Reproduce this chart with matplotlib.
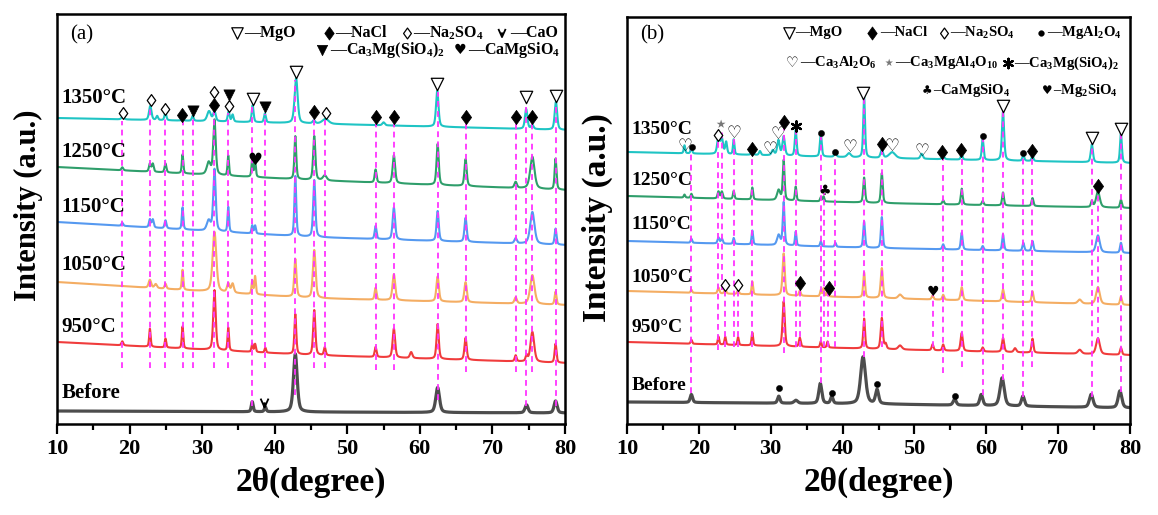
import numpy as np
import matplotlib
matplotlib.use("Agg")
import matplotlib.pyplot as plt
from matplotlib.path import Path

plt.rcParams['font.family'] = ['Liberation Serif', 'DejaVu Sans']
plt.rcParams['font.weight'] = 'bold'
plt.rcParams['mathtext.fontset'] = 'custom'
plt.rcParams['mathtext.rm'] = 'Liberation Serif:bold'
plt.rcParams['mathtext.it'] = 'Liberation Serif:bold'
plt.rcParams['mathtext.bf'] = 'Liberation Serif:bold'

# ---------------- data (2theta, height, half-width), baselines at 10/45/80 deg ----------------
SAMPLES = ['1350°C', '1250°C', '1150°C', '1050°C', '950°C', 'Before']
COLORS = ['#1fc4c4', '#2f9e6b', '#5599f0', '#f4ad63', '#f03c3c', '#4d4d4d']

# panel (a)
A_BASE = [[118, 123.5, 130], [167, 180, 190], [222, 237, 245],
          [282, 298, 305], [342, 355, 363], [411, 412, 413]]
A_1350 = [(19.07, 3, .2), (22.85, 14, .2), (23.8, 4, .15), (24.94, 8, .15), (27.3, 3, .15),
          (28.7, 5, .15), (30.95, 10, .3), (31.7, 10, .2), (33.65, 10, .15), (34.2, 7, .15),
          (36.96, 17, .15), (38.65, 9, .15), (42.95, 45, .25), (45.4, 3, .2), (47.0, 5, .5),
          (55.0, 3, .2), (62.4, 36, .2), (74.65, 20, .2), (75.5, 4, .2), (78.75, 28, .2)]
A_1250 = [(19.0, 3, .15), (22.8, 8, .15), (23.2, 8, .15), (24.95, 9, .15), (27.3, 19, .12),
          (30.9, 12, .3), (31.7, 55, .2), (33.6, 20, .12), (36.9, 18, .12), (37.3, 16, .12),
          (42.84, 43, .15), (45.45, 44, .18), (46.9, 5, .3), (53.9, 13, .15), (56.42, 28, .2),
          (62.45, 41, .18), (66.3, 27, .18), (73.2, 6, .2), (75.5, 32, .35), (78.7, 31, .15)]
A_1150 = [(19.0, 3, .15), (22.8, 8, .15), (23.2, 8, .15), (24.95, 8, .15), (27.3, 22, .12),
          (30.9, 10, .3), (31.7, 62, .2), (33.6, 25, .12), (36.9, 8, .12), (37.3, 8, .12),
          (42.84, 60, .15), (45.45, 57, .18), (53.9, 13, .15), (56.42, 32, .2), (62.45, 30, .18),
          (66.3, 24, .18), (73.2, 5, .2), (75.5, 32, .35), (78.7, 16, .15)]
A_1050 = [(22.8, 8, .2), (23.6, 4, .2), (24.95, 5, .15), (27.3, 20, .12), (31.7, 60, .3),
          (33.6, 9, .2), (34.2, 9, .2), (36.9, 13, .12), (37.3, 18, .12), (42.84, 38, .18),
          (45.45, 48, .22), (53.9, 12, .15), (56.42, 26, .22), (62.45, 25, .2), (66.3, 20, .2),
          (73.2, 6, .2), (75.5, 29, .35), (78.7, 13, .15)]
A_950 = [(19.0, 4, .15), (22.8, 18, .12), (24.95, 9, .12), (27.3, 22, .12), (31.7, 60, .2),
         (33.6, 23, .12), (36.9, 8, .12), (37.3, 8, .12), (38.7, 5, .12), (42.84, 40, .15),
         (45.45, 45, .18), (46.9, 8, .15), (53.9, 10, .15), (56.42, 29, .2), (58.8, 6, .2),
         (62.45, 35, .18), (66.3, 22, .18), (73.2, 6, .15), (74.7, 6, .15), (75.5, 30, .3),
         (78.7, 19, .15)]
A_BEFORE = [(36.9, 10, .15), (38.7, 5, .15), (42.84, 58, .3), (62.45, 25, .3),
            (74.7, 8, .25), (78.7, 12, .25)]

# panel (b)
B_BASE = [[152, 158, 163], [196, 203, 208], [241, 248, 253],
          [291, 298, 305], [342, 349, 355], [402, 404, 408]]
B_1350 = [(18.0, 8, .12), (18.96, 7, .12), (22.73, 18, .2), (23.2, 15, .2), (23.8, 12, .15),
          (24.85, 15, .12), (27.44, 6, .15), (28.5, 4, .15), (30.3, 5, .2), (31.07, 15, .2),
          (31.8, 19, .2), (33.48, 26, .15), (36.97, 23, .15), (39.0, 6, .15), (40.9, 4, .3),
          (43.0, 61, .15), (45.46, 8, .2), (46.9, 6, .5), (51.0, 5, .2), (54.0, 3, .2),
          (56.58, 5, .15), (59.5, 21, .15), (62.33, 49, .18), (65.16, 6, .15), (66.43, 5, .15),
          (74.69, 18, .18), (78.74, 30, .15)]
B_1250 = [(18.0, 3, .12), (18.96, 4, .12), (22.73, 7, .15), (23.2, 7, .15), (24.85, 8, .12),
          (27.44, 12, .12), (31.1, 10, .25), (31.8, 40, .15), (33.48, 14, .12), (36.97, 4, .12),
          (37.35, 5, .12), (43.0, 25, .15), (45.46, 30, .15), (54.0, 4, .15), (56.58, 16, .15),
          (59.5, 4, .15), (62.33, 13, .15), (66.43, 8, .15), (74.69, 6, .15), (75.54, 16, .3),
          (78.74, 8, .15)]
B_1150 = [(18.96, 4, .12), (22.73, 6, .15), (23.2, 5, .15), (24.85, 6, .12), (27.44, 14, .12),
          (31.1, 10, .25), (31.8, 43, .15), (33.48, 14, .12), (36.97, 5, .12), (39.0, 4, .12),
          (43.0, 26, .15), (45.46, 31, .15), (54.0, 5, .15), (56.58, 17, .15), (59.5, 4, .15),
          (62.33, 16, .15), (65.16, 8, .15), (66.43, 10, .15), (75.54, 17, .3), (78.74, 10, .15)]
B_1050 = [(18.96, 3, .12), (22.73, 6, .15), (23.67, 5, .15), (25.46, 4, .15), (27.44, 13, .12),
          (31.8, 42, .18), (34.05, 5, .15), (36.97, 6, .12), (37.35, 8, .12), (37.91, 6, .12),
          (43.0, 25, .15), (45.46, 30, .18), (48.0, 4, .3), (52.53, 4, .15), (54.0, 5, .15),
          (56.58, 13, .18), (62.33, 12, .18), (66.43, 11, .15), (73.0, 4, .3), (75.54, 17, .3),
          (78.74, 8, .15)]
B_950 = [(18.96, 4, .12), (22.73, 8, .12), (23.67, 8, .12), (25.46, 8, .12), (27.44, 13, .12),
         (31.8, 45, .18), (34.05, 9, .15), (36.97, 6, .12), (37.91, 6, .12), (43.0, 30, .15),
         (45.46, 31, .18), (46.0, 5, .15), (48.0, 4, .3), (52.53, 6, .15), (54.0, 6, .15),
         (56.58, 18, .18), (59.5, 4, .15), (62.33, 14, .18), (64.0, 4, .2), (66.43, 14, .15),
         (73.0, 4, .3), (75.54, 16, .3), (78.74, 7, .15)]
B_BEFORE = [(18.96, 8, .2), (31.12, 7, .2), (33.5, 3, .3), (36.9, 20, .25), (38.5, 7, .2),
            (42.85, 47, .4), (44.8, 14, .25), (55.6, 6, .25), (59.3, 11, .25), (62.2, 28, .35),
            (65.1, 10, .25), (74.6, 13, .3), (78.6, 17, .3)]

# reference (dashed) lines: 2theta, top, bottom (image rows)
A_LINES = [(19.02, 121, 368), (22.81, 108, 368), (24.95, 116, 368), (27.32, 122, 368),
           (28.75, 118, 368), (31.69, 112, 368), (33.59, 113, 368), (36.91, 106, 406),
           (38.71, 114, 368), (42.84, 80, 395), (45.45, 119, 368), (46.92, 120, 368),
           (53.90, 124, 370), (56.42, 124, 370), (62.45, 92, 400), (66.33, 124, 372),
           (73.22, 124, 372), (74.69, 104, 406), (75.50, 124, 372), (78.72, 103, 406)]
B_LINES = [(18.96, 150, 393), (22.73, 140, 350), (23.2, 130, 290), (23.67, 288, 347),
           (24.85, 137, 347), (25.46, 288, 347), (27.44, 153, 347), (31.83, 127, 353),
           (33.48, 130, 347), (34.05, 287, 347), (36.97, 137, 383), (37.35, 193, 347),
           (37.91, 292, 347), (39.0, 155, 347), (43.0, 97, 357), (45.46, 148, 347),
           (52.53, 295, 347), (53.99, 155, 373), (56.58, 153, 367), (59.5, 138, 395),
           (62.33, 110, 380), (65.16, 155, 397), (66.43, 155, 367), (74.69, 142, 397),
           (75.54, 190, 343), (78.74, 133, 392)]

# phase markers: (phase, 2theta, image row)
A_MARKS = [('MgO', 36.96, 99), ('MgO', 42.98, 72), ('MgO', 62.4, 84), ('MgO', 74.6, 97),
           ('MgO', 78.76, 96),
           ('NaCl', 27.2, 115), ('NaCl', 31.7, 105), ('NaCl', 45.4, 112), ('NaCl', 53.9, 117),
           ('NaCl', 56.5, 117), ('NaCl', 66.4, 117), ('NaCl', 73.3, 117), ('NaCl', 75.5, 117),
           ('Na2SO4', 19.07, 113), ('Na2SO4', 22.9, 100), ('Na2SO4', 24.94, 109),
           ('Na2SO4', 31.7, 92), ('Na2SO4', 33.65, 106), ('Na2SO4', 47.0, 113),
           ('C3MS2', 28.7, 111), ('C3MS2', 33.65, 95), ('C3MS2', 38.6, 107),
           ('CMS', 37.3, 160), ('CaO', 38.6, 403)]
B_MARKS = [('MgO', 42.9, 93), ('MgO', 62.33, 106), ('MgO', 74.69, 138), ('MgO', 78.74, 129),
           ('NaCl', 27.44, 149), ('NaCl', 31.78, 122), ('NaCl', 45.46, 144), ('NaCl', 53.85, 152),
           ('NaCl', 56.5, 150), ('NaCl', 66.43, 151), ('NaCl', 75.54, 186), ('NaCl', 34.05, 283),
           ('NaCl', 38.05, 288),
           ('Na2SO4', 22.64, 135), ('Na2SO4', 23.67, 285), ('Na2SO4', 25.46, 285),
           ('MA', 19.05, 147), ('MA', 36.97, 133), ('MA', 39.0, 152), ('MA', 59.5, 136),
           ('MA', 65.16, 153), ('MA', 31.12, 388), ('MA', 38.5, 393), ('MA', 44.75, 384),
           ('MA', 55.6, 396),
           ('C3A', 18.1, 146), ('C3A', 24.85, 133), ('C3A', 29.9, 149), ('C3A', 31.07, 134),
           ('C3A', 41.0, 147), ('C3A', 46.9, 146), ('C3A', 51.0, 151),
           ('C3MA4', 23.06, 125), ('C3MS2b', 33.57, 126), ('CMSb', 37.58, 191), ('M2S', 52.53, 292)]

A_LEGEND = [('MgO', 34.8, 35.77, 33, '—MgO'), ('NaCl', 47.48, 48.3, 33, '—NaCl'),
            ('Na2SO4', 58.23, 59.06, 33, '—Na$_2$SO$_4$'), ('CaO', 71.32, 72.42, 33, '—CaO'),
            ('C3MS2', 46.52, 47.6, 50, '—Ca$_3$Mg(SiO$_4$)$_2$'),
            ('CMS', 65.6, 66.63, 50, '—CaMgSiO$_4$')]
B_LEGEND = [('MgO', 32.54, 33.38, 33, '—MgO'), ('NaCl', 44.1, 45.2, 33, '—NaCl'),
            ('Na2SO4', 54.1, 54.95, 33, '—Na$_2$SO$_4$'), ('MA', 67.6, 68.45, 33, '—MgAl$_2$O$_4$'),
            ('C3A', 33.03, 34.07, 63, '—Ca$_3$Al$_2$O$_6$'),
            ('C3MA4', 46.5, 47.3, 63, '—Ca$_3$MgAl$_4$O$_{10}$'),
            ('C3MS2b', 63.0, 63.9, 63, '—Ca$_3$Mg(SiO$_4$)$_2$'),
            ('CMSb', 51.8, 52.6, 91, '–CaMgSiO$_4$'), ('M2S', 68.45, 69.3, 91, '–Mg$_2$SiO$_4$')]

A_LABEL_ROWS = [98, 152, 207, 265, 327, 393]
B_LABEL_ROWS = [130, 181, 225, 277, 327, 385]

# ---------------- drawing ----------------
W, H = 1158, 515
BOTTOM = 424
X = np.linspace(10, 80, 4000)

DIAMOND = Path([(0, 1), (0.72, 0), (0, -1), (-0.72, 0), (0, 1)],
               [Path.MOVETO, Path.LINETO, Path.LINETO, Path.LINETO, Path.CLOSEPOLY])
CAO = Path([(-0.9, 1), (0, -1), (0.9, 1), (0, -1), (0, 0.15)],
           [Path.MOVETO, Path.LINETO, Path.LINETO, Path.MOVETO, Path.LINETO])


def curve(base, peaks):
    y = np.interp(X, [10, 45, 80], [BOTTOM - v for v in base])
    for p, h, w in peaks:
        lor = w ** 2 / ((X - p) ** 2 + w ** 2)
        gau = np.exp(-np.log(2) * ((X - p) / w) ** 2)
        y = y + h * (0.45 * lor + 0.55 * gau)
    return y


def marker(ax, kind, x, row, scale=1.0):
    y = BOTTOM - row
    z = 6
    if kind == 'MgO':
        ax.scatter([x], [y], s=80 * scale, marker='v', facecolors='white', edgecolors='black',
                   linewidths=0.9, zorder=z)
    elif kind == 'NaCl':
        ax.scatter([x], [y], s=105 * scale, marker=DIAMOND, facecolors='black',
                   edgecolors='black', linewidths=0.5, zorder=z)
    elif kind == 'Na2SO4':
        ax.scatter([x], [y], s=72 * scale, marker=DIAMOND, facecolors='white',
                   edgecolors='black', linewidths=0.9, zorder=z)
    elif kind == 'C3MS2':
        ax.scatter([x], [y], s=65 * scale, marker='v', facecolors='black', edgecolors='black',
                   linewidths=0.5, zorder=z)
    elif kind == 'CaO':
        ax.scatter([x], [y], s=40 * scale, marker=CAO, facecolors='none', edgecolors='black',
                   linewidths=1.3, zorder=z)
    elif kind == 'MA':
        ax.scatter([x], [y], s=20 * scale, marker='o', facecolors='black', edgecolors='black',
                   linewidths=0.3, zorder=z)
    elif kind == 'C3MS2b':
        ax.scatter([x], [y], s=55 * scale, marker=(6, 2, 0), facecolors='black',
                   edgecolors='black', linewidths=1.6, zorder=z)
    else:
        glyph = {'CMS': '♥', 'C3A': '♡', 'C3MA4': '⋆', 'CMSb': '♣', 'M2S': '♥'}[kind]
        size = {'CMS': 12, 'C3A': 12, 'C3MA4': 14, 'CMSb': 10, 'M2S': 10}[kind] * scale
        color = '#777777' if kind == 'C3MA4' else 'black'
        ax.text(x, y, glyph, family='DejaVu Sans', fontsize=size, color=color,
                ha='center', va='center', zorder=z)


def panel(ax, bases, patterns, lines, marks, legend, label_rows, top, tag, tag_row,
          legend_fs, label_fs):
    ax.set_xlim(10, 80)
    ax.set_ylim(0, BOTTOM - top)
    for i, (base, pk) in enumerate(zip(bases, patterns)):
        lw = 2.3 if i == 5 else 1.5
        ax.plot(X, curve(base, pk), color=COLORS[i], lw=lw, zorder=2)
    for x, t, b in lines:
        ax.plot([x, x], [BOTTOM - b, BOTTOM - t], color='#ff33ff', lw=1.3,
                dashes=(3.2, 2.4), zorder=3)
    for kind, x, row in marks:
        marker(ax, kind, x, row)
    for kind, xm, xt, row, txt in legend:
        marker(ax, kind, xm, row, scale=0.85)
        ax.text(xt, BOTTOM - row, txt, fontsize=legend_fs, fontweight='bold',
                ha='left', va='center', zorder=6)
    for name, row in zip(SAMPLES, label_rows):
        ax.text(10.6, BOTTOM - row, name, fontsize=label_fs, fontweight='bold',
                ha='left', va='center', zorder=6)
    ax.text(11.8, BOTTOM - tag_row, tag, fontsize=15, fontweight='normal',
            ha='left', va='center')
    ax.set_xticks(np.arange(10, 81, 10))
    ax.set_xticks(np.arange(15, 80, 10), minor=True)
    ax.set_yticks([])
    ax.tick_params(axis='x', which='major', direction='out', length=7, width=1.6,
                   labelsize=16, pad=4)
    ax.tick_params(axis='x', which='minor', direction='out', length=4, width=1.6)
    for lab in ax.get_xticklabels():
        lab.set_fontweight('bold')
    for sp in ax.spines.values():
        sp.set_linewidth(1.8)
    ax.set_xlabel('2θ(degree)', fontsize=24, fontweight='bold')
    ax.set_ylabel('Intensity (a.u.)', fontsize=22, fontweight='bold')


fig = plt.figure(figsize=(W / 100, H / 100), dpi=100)
axA = fig.add_axes([57 / W, (H - BOTTOM) / H, 508 / W, (BOTTOM - 14) / H])
axB = fig.add_axes([627 / W, (H - BOTTOM) / H, 503 / W, (BOTTOM - 17) / H])

panel(axA, A_BASE, [A_1350, A_1250, A_1150, A_1050, A_950, A_BEFORE], A_LINES, A_MARKS,
      A_LEGEND, A_LABEL_ROWS, 14, '(a)', 35, 11.5, 15)
panel(axB, B_BASE, [B_1350, B_1250, B_1150, B_1050, B_950, B_BEFORE], B_LINES, B_MARKS,
      B_LEGEND, B_LABEL_ROWS, 17, '(b)', 35, 10.5, 14)

axA.xaxis.set_label_coords(0.5, (BOTTOM - 467) / 410)
axB.xaxis.set_label_coords(0.5, (BOTTOM - 467) / 407)
axA.yaxis.set_label_coords((43 - 57) / 508, (BOTTOM - 205) / 410)
axB.yaxis.set_label_coords((613 - 627) / 503, (BOTTOM - 218) / 407)
axB.yaxis.label.set_fontsize(24)

fig.savefig('out.png', dpi=100)
